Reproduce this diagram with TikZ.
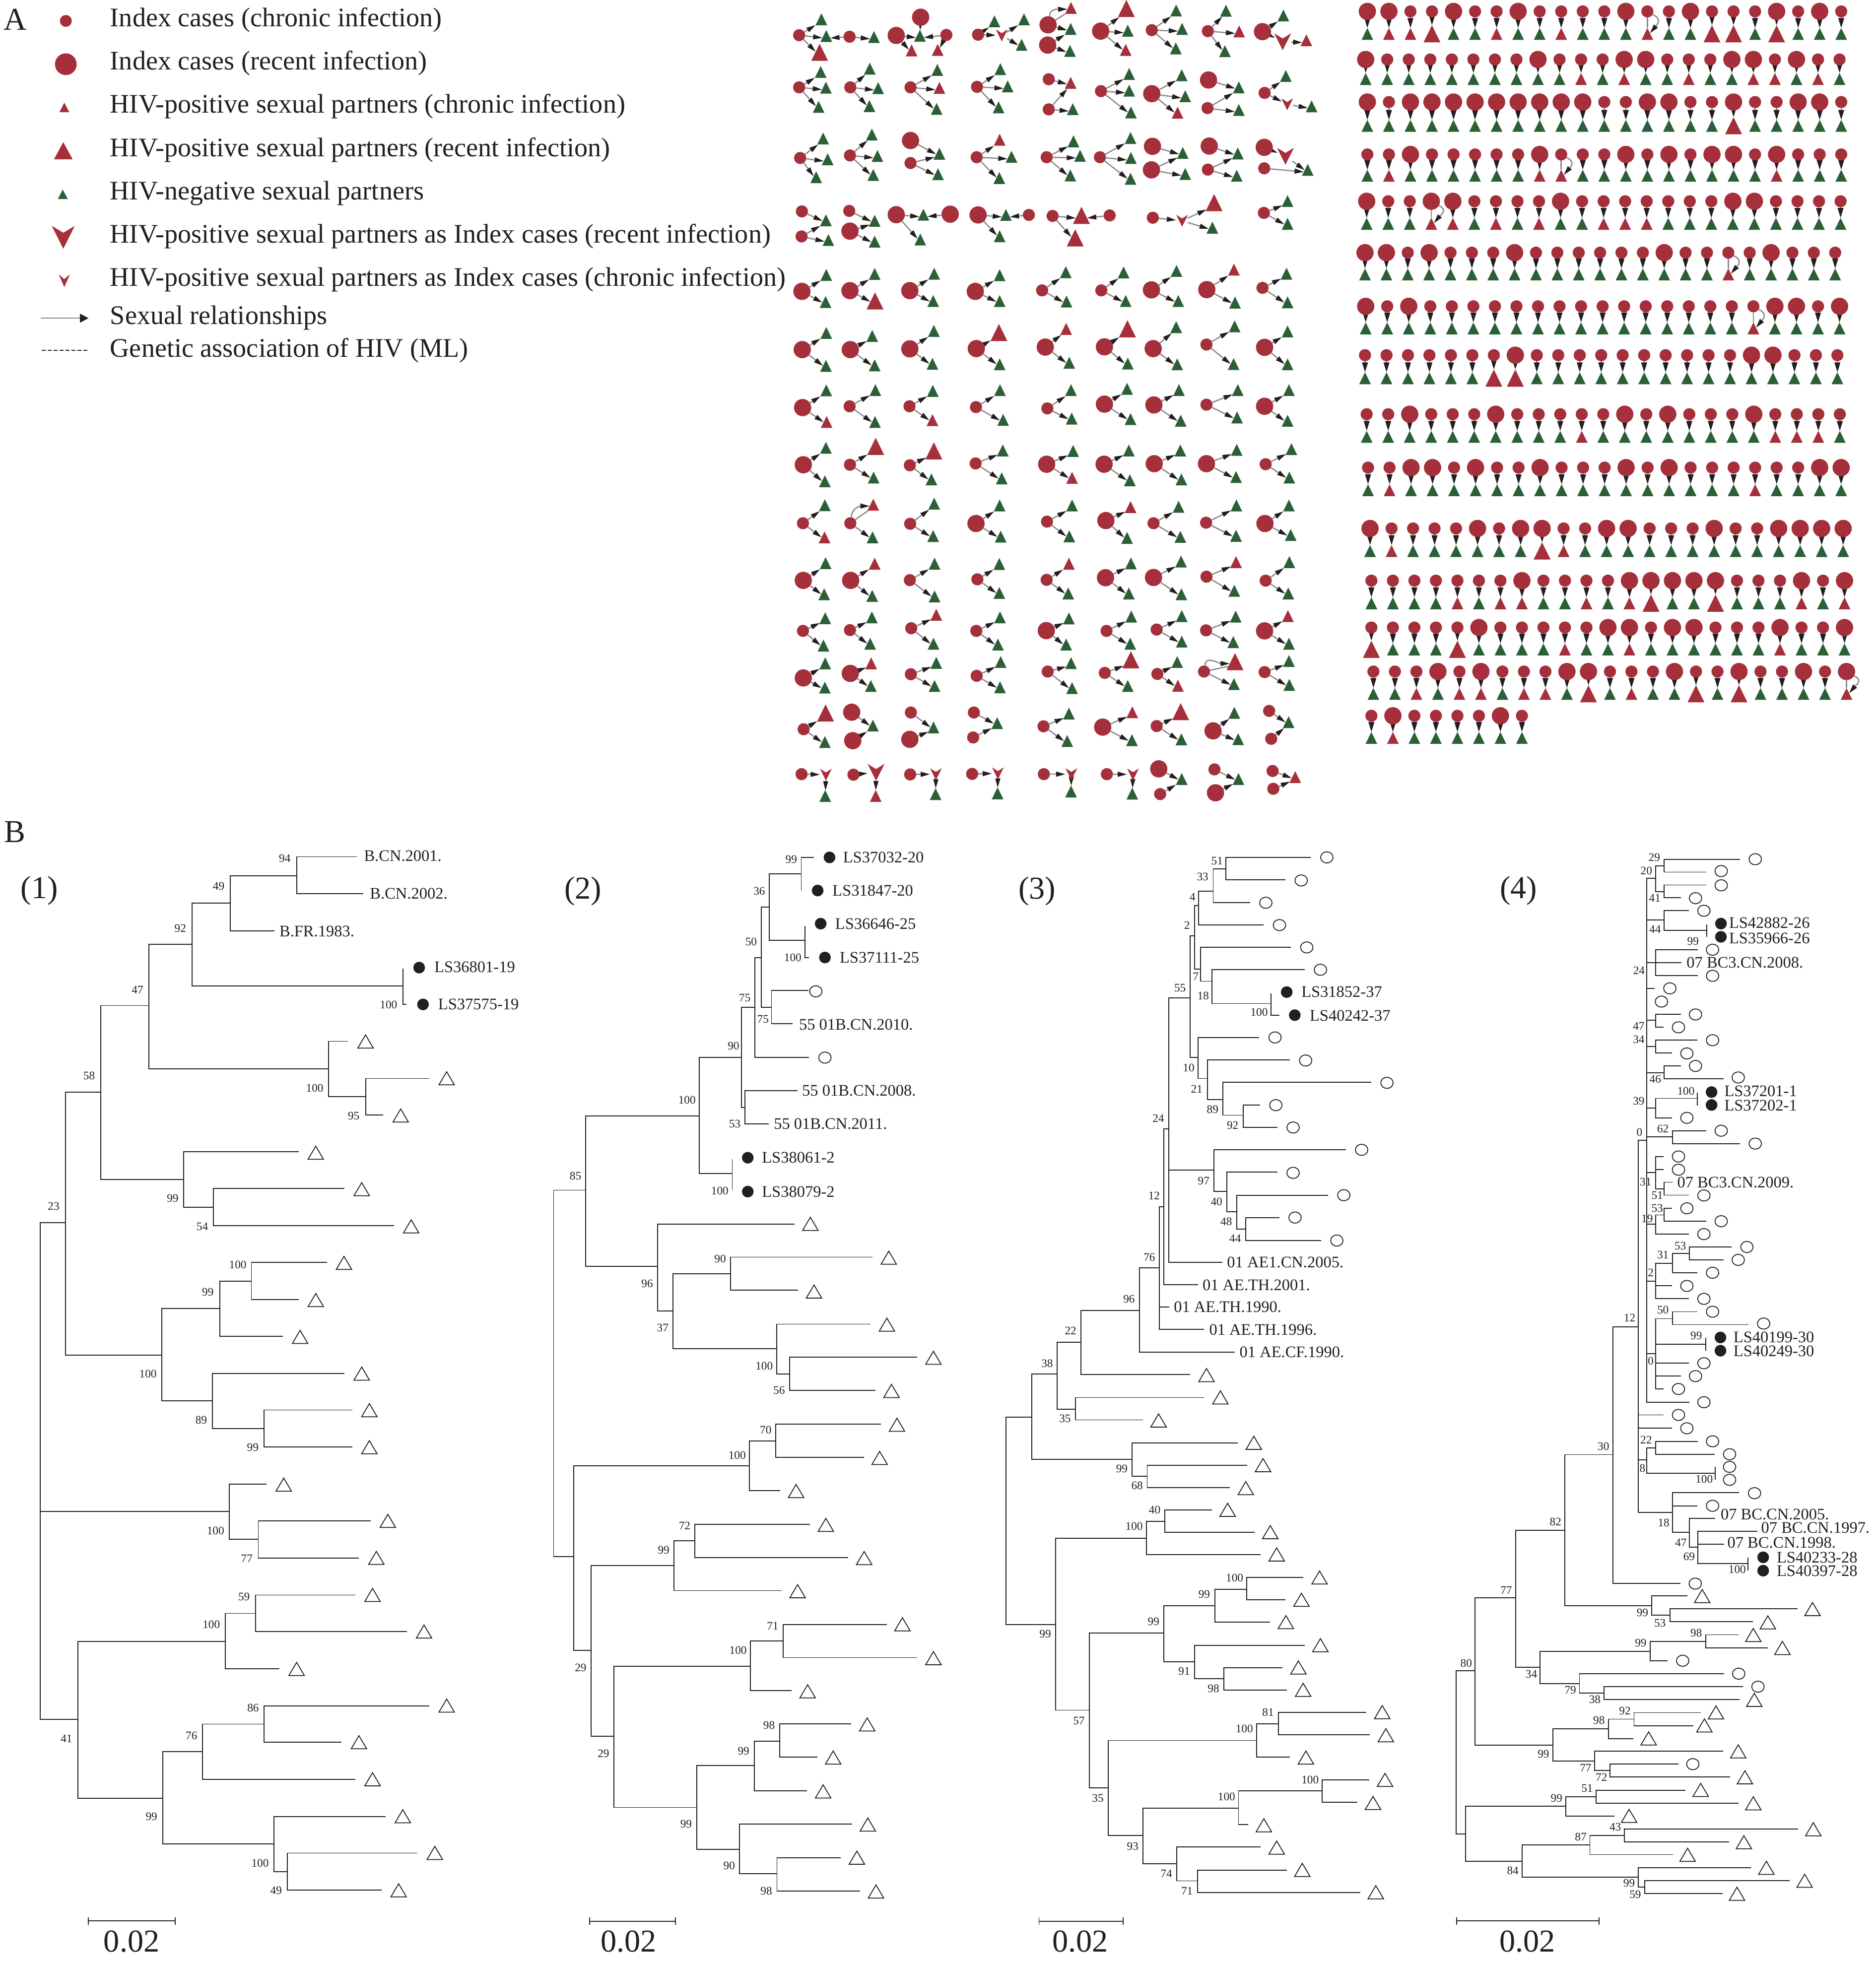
\documentclass[tikz,border=0pt]{standalone}
\usepackage{fontspec}
\setmainfont{Liberation Serif}
\usetikzlibrary{arrows.meta,shapes.geometric}
\definecolor{hvred}{HTML}{A52F3A}
\definecolor{hvgrn}{HTML}{2B6037}
\definecolor{ink}{HTML}{231F20}
\definecolor{lkg}{HTML}{8A8A8C}
\pgfdeclarelayer{lo}\pgfsetlayers{lo,main}
\tikzset{
 fr/.style n args={4}{shift={(#1*0.4pt,-#2*0.4pt)},x={#3*0.4pt/1568},y={-#4*0.4pt/1568}},
 tribase/.style={shape=isosceles triangle,isosceles triangle stretches,shape border rotate=90,inner sep=0pt,outer sep=0pt,draw=none},
 hvg/.style={tribase,fill=hvgrn,minimum width=9.4pt,minimum height=9.6pt,yshift=-1.7pt},
 hvr/.style={tribase,fill=hvred,minimum width=9.4pt,minimum height=9.6pt,yshift=-1.7pt},
 hvR/.style={tribase,fill=hvred,minimum width=13.6pt,minimum height=13.8pt,yshift=-2.4pt},
 hvc/.style={shape=circle,fill=hvred,minimum size=9.8pt,inner sep=0pt,outer sep=0pt},
 hvC/.style={shape=circle,fill=hvred,minimum size=13.9pt,inner sep=0pt,outer sep=0pt},
 hvv/.style={shape=circle,minimum size=9.6pt,inner sep=0pt,outer sep=0pt},
 hvV/.style={shape=circle,minimum size=13.6pt,inner sep=0pt,outer sep=0pt},
 lk/.style={draw=lkg,line width=1pt,-{Triangle[length=7.5pt,width=3.9pt,color=ink,fill=ink]}},
 ll/.style={draw=lkg,line width=1pt,-{Triangle[length=8pt,width=4.6pt,color=ink,fill=ink]}},
 lk0/.style={draw=lkg,line width=1pt},
 tr/.style={draw=ink,line width=0.75pt},
 scbar/.style={draw=ink,line width=0.75pt,{Bar[width=6pt]}-{Bar[width=6pt]}},
 optri/.style={tribase,draw=ink,line width=0.7pt,minimum width=12.5pt,minimum height=10.6pt,yshift=-1.6pt},
 opcir/.style={shape=ellipse,draw=ink,line width=0.7pt,minimum width=10pt,minimum height=9pt,inner sep=0pt},
 bdot/.style={shape=circle,fill=ink,minimum size=9.4pt,inner sep=0pt},
 bsv/.style={font=\fontsize{9.3}{10}\selectfont,text=ink,inner sep=0pt},
 tlab/.style={font=\fontsize{13}{14}\selectfont,text=ink,inner sep=0pt,anchor=west},
 bigl/.style={font=\fontsize{25.7}{27}\selectfont,text=ink,inner sep=0pt},
 leg/.style={font=\fontsize{21.65}{23}\selectfont,text=ink,inner sep=0pt,anchor=base west},
}
\newcounter{mm}\newcounter{nn}
\newtoks\arqtoks
\newcommand\Qd[1]{\edef\tmpq{#1}\global\arqtoks\expandafter{\the\expandafter\arqtoks\tmpq}}
\newcommand\mkg[3]{\node[hvg] (#1) at (#2,#3) {};}
\newcommand\mkr[3]{\node[hvr] (#1) at (#2,#3) {};}
\newcommand\mkR[3]{\node[hvR] (#1) at (#2,#3) {};}
\newcommand\mkc[3]{\node[hvc] (#1) at (#2,#3) {};}
\newcommand\mkC[3]{\node[hvC] (#1) at (#2,#3) {};}
\newcommand\mkv[3]{\node[hvv] (#1) at (#2,#3) {};\fill[hvred] (#1.center) ++(-4.7pt,4.8pt) -- ++(4.7pt,-3pt) -- ++(4.7pt,3pt) -- ++(-4.7pt,-9.6pt) -- cycle;}
\newcommand\mkV[3]{\node[hvV] (#1) at (#2,#3) {};\fill[hvred] (#1.center) ++(-6.8pt,6.8pt) -- ++(6.8pt,-4.2pt) -- ++(6.8pt,4.2pt) -- ++(-6.8pt,-13.6pt) -- cycle;}
\newcommand\Mk[4]{\csname mk#2\endcsname{#1}{#3}{#4}}
\newcommand\Ar[3][lk]{\Qd{\noexpand\draw[#1] (#2) -- (#3);}}
\newcommand\Mf[2]{\foreach \t/\a/\b [count=\k] in {#2}{\if\t @\Ar{#1}{\a}\else\Mk{#1-\k}{\t}{\a}{\b}\Ar{#1}{#1-\k}\fi}}
\newcommand\Mo[4]{\stepcounter{mm}\edef\sn{m\arabic{mm}}\Mk{\sn}{#1}{#2}{#3}\Mf{\sn}{#4}}
\newcommand\LpA[2]{\Qd{\noexpand\draw[lk0] (#1) -- (#2);\noexpand\draw[lk] (#1.80) to[out=90,in=180,looseness=1.1] (#2.165);}}
\newcommand\LpB[2]{\Qd{\noexpand\draw[lk0] (#1) -- (#2);\noexpand\draw[lk] (#1.-30) to[out=-25,in=50,looseness=1.5] (#2.50);}}
\newcommand\lolg[3]{\Mk{#1b}{g}{#2}{#3}\Ar[ll]{#1a}{#1b}}
\newcommand\lolr[3]{\Mk{#1b}{r}{#2}{#3}\Ar[ll]{#1a}{#1b}}
\newcommand\lolR[3]{\Mk{#1b}{R}{#2}{#3}\Ar[ll]{#1a}{#1b}}
\newcommand\lolL[3]{\Mk{#1b}{r}{#2}{#3}\LpB{#1a}{#1b}}
\def\cirB{C}\def\cirS{c}
\def\Lol#1#2\relax#3#4#5{\Mk{\sn a}{\csname cir#1\endcsname}{#3}{#4}\csname lol#2\endcsname{\sn}{#3}{#5}}
\newcommand\Rw[5]{\foreach \t [count=\i from 0] in {#5}{\pgfmathsetmacro\xx{#1+\i*#2}\stepcounter{mm}\edef\sn{l\arabic{mm}}\expandafter\Lol\t\relax{\xx}{#3}{#4}}}
\newcommand\C[5]{\draw[tr] (#3,#2)--(#1,#2)--(#1,#4)--(#5,#4);}
\newcommand\Hh[3]{\draw[tr] (#1,#3)--(#2,#3);}
\newcommand\Vv[3]{\draw[tr] (#1,#2)--(#1,#3);}
\newcommand\nm{\stepcounter{nn}\edef\nmx{n\arabic{nn}}}
\newcommand\Tm[1]{\foreach \a/\b in {#1}{\nm\node[optri] (\nmx) at (\a,\b) {};}}
\newcommand\Om[1]{\foreach \a/\b in {#1}{\nm\node[opcir] (\nmx) at (\a,\b) {};}}
\newcommand\Dm[1]{\foreach \a/\b in {#1}{\nm\node[bdot] (\nmx) at (\a,\b) {};}}
\newcommand\Bs[1]{\foreach \a/\b/\c in {#1}{\nm\node[bsv] (\nmx) at (\a,\b) {\c};}}
\newcommand\Lb[3]{\nm\node[tlab] (\nmx) at (#1,#2) {#3};}
\newcommand\Bg[3]{\nm\node[bigl] (\nmx) at (#1,#2) {#3};}
\newcommand\Sc[3]{\nm\coordinate (\nmx a) at (#1,#3);\coordinate (\nmx b) at (#2,#3);\draw[scbar] (\nmx a) -- (\nmx b);}
\begin{document}
\begin{tikzpicture}
\useasboundingbox (0pt,0pt) rectangle (1512pt,-1582.4pt);
% ---------- legend
\begin{scope}[fr={0}{0}{1600}{760}]
\Bg{30}{82}{A}
\node[hvc,minimum size=9.6pt] (lg1) at (130,87) {};
\node[hvC,minimum size=17.5pt] (lg2) at (130,267) {};
\node[hvr,minimum width=8pt,minimum height=7.6pt,yshift=0.3pt] (lg3) at (127,447) {};
\node[hvR,minimum width=15pt,minimum height=13.8pt] (lg4) at (125,627) {};
\node[hvg,minimum width=8pt,minimum height=7.6pt,yshift=0.3pt] (lg5) at (124,808) {};
\node[hvV,minimum size=18pt] (lg6) at (125,987) {};
\fill[hvred] (lg6.center) ++(-9.2pt,9.2pt) -- ++(9.2pt,-5.5pt) -- ++(9.2pt,5.5pt) -- ++(-9.2pt,-18.4pt) -- cycle;
\node[hvv,minimum size=10pt] (lg7) at (127,1167) {};
\fill[hvred] (lg7.center) ++(-4.5pt,5.2pt) -- ++(4.5pt,-4pt) -- ++(4.5pt,4pt) -- ++(-4.5pt,-10.4pt) -- cycle;
\node[leg] (lt1) at (217,110) {Index cases (chronic infection)};
\node[leg] (lt2) at (217,290) {Index cases (recent infection)};
\node[leg] (lt3) at (217,470) {HIV-positive sexual partners (chronic infection)};
\node[leg] (lt4) at (217,650) {HIV-positive sexual partners (recent infection)};
\node[leg] (lt5) at (217,830) {HIV-negative sexual partners};
\node[leg] (lt6) at (217,1010) {HIV-positive sexual partners as Index cases (recent infection)};
\node[leg] (lt7) at (217,1190) {HIV-positive sexual partners as Index cases (chronic infection)};
\node[leg] (lt8) at (217,1348) {Sexual relationships};
\node[leg] (lt9) at (217,1484) {Genetic association of HIV (ML)};
\coordinate (la1) at (80,1323);\coordinate (la2) at (175,1323);
\draw[draw=lkg,line width=1pt,-{Triangle[length=7pt,width=7pt,color=ink,fill=ink]}] (la1) -- (la2);
\coordinate (ld1) at (82,1457);\coordinate (ld2) at (172,1457);
\draw[draw=ink,line width=0.6pt,dash pattern=on 3.2pt off 1.6pt] (ld1) -- (ld2);
\end{scope}
% ---------- motifs top
\begin{scope}[fr={1580}{0}{1100}{800}]
\Mk{h1}{g}{121}{143}\Mo{c}{43}{139}{g/107/77,@/h1/0,R/102/208}\Mo{c}{188}{145}{@/h1/0,g/258/147}
\Mk{h2}{g}{390}{142}\Mo{C}{322}{140}{@/h2/0,r/366/200}\Mo{C}{392}{68}{@/h2/0}\Mo{c}{466}{138}{@/h2/0,r/441/198}
\Mk{v1}{v}{625}{140}\Mo{c}{557}{137}{g/604/85,@/v1/0}\Mf{v1}{g/689/77,g/682/178}
\Mk{h3}{g}{823}{115}\Mk{h4}{r}{824}{32}\Mk{h5}{C}{758}{98}\LpA{h5}{h4}\Mf{h5}{@/h3/0}\Mo{C}{757}{178}{@/h3/0,g/821/202}
\Mo{C}{909}{123}{R/983/35,g/987/122,r/981/198}
\Mo{c}{1056}{119}{g/1126/42,g/1143/115,g/1125/192}
\Mo{c}{1217}{123}{g/1269/43,r/1307/125,g/1266/203}
\Mk{v2}{V}{1432}{165}\Mo{C}{1374}{125}{g/1434/62,@/v2/0}\Mf{v2}{r/1500/160}
% row 2
\Mo{c}{43}{345}{g/105/285,g/120/347,g/99/423}
\Mo{c}{190}{345}{g/246/272,g/270/349,g/245/420}
\Mo{c}{363}{345}{g/440/277,r/446/348,g/438/431}
\Mo{c}{554}{343}{g/621/274,g/642/342,g/616/425}
\Mk{h6}{r}{823}{328}\Mo{c}{760}{313}{@/h6/0}\Mo{c}{760}{432}{@/h6/0,g/829/432}
\Mo{c}{910}{360}{g/991/293,g/991/359,g/996/445}
\Mo{C}{1056}{370}{g/1142/298,g/1152/381,r/1130/446}
\Mk{h7}{g}{1306}{346}\Mo{C}{1219}{316}{@/h7/0}\Mo{c}{1216}{427}{@/h7/0,g/1306/435}
\Mk{v3}{v}{1445}{412}\Mo{c}{1380}{367}{g/1441/301,@/v3/0}\Mf{v3}{g/1515/421}
% row 3
\Mo{c}{46}{624}{g/112/548,g/125/630,g/92/701}
\Mo{c}{189}{614}{g/252/532,g/268/617,g/256/692}
\Mk{h8}{g}{446}{608}\Mo{C}{363}{555}{@/h8/0}\Mo{c}{363}{644}{@/h8/0,g/442/689}
\Mo{c}{553}{621}{r/619/553,g/653/620,g/618/704}
\Mo{c}{754}{621}{g/831/559,g/850/616,g/822/694}
\Mo{c}{907}{621}{g/995/546,g/996/625,g/995/707}
\Mk{h9}{g}{1145}{605}\Mo{C}{1058}{578}{@/h9/0}\Mo{C}{1055}{671}{@/h9/0,g/1152/688}
\Mk{h10}{g}{1303}{607}\Mo{C}{1221}{577}{@/h10/0}\Mo{c}{1217}{670}{@/h10/0,g/1300/695}
\Mk{v4}{V}{1440}{617}\Mk{h11}{g}{1504}{672}\Mo{C}{1379}{582}{@/v4/0}\Mf{v4}{@/h11/0}\Mo{c}{1379}{665}{@/h11/0}
% row 4
\Mk{h12}{g}{120}{871}\Mo{c}{51}{835}{@/h12/0}\Mo{c}{50}{934}{@/h12/0,g/127/949}
\Mk{h13}{g}{260}{873}\Mo{c}{187}{833}{@/h13/0}\Mo{C}{189}{913}{@/h13/0,g/260/955}
\Mk{h14}{g}{400}{849}\Mo{C}{322}{848}{@/h14/0,g/391/947}\Mo{C}{477}{846}{@/h14/0}
\Mk{h15}{g}{637}{850}\Mo{C}{557}{849}{@/h15/0,g/619/934}\Mo{c}{703}{849}{@/h15/0}
\Mk{h16}{R}{854}{852}\Mo{c}{771}{853}{@/h16/0,R/836/941}\Mo{c}{935}{851}{@/h16/0}
\Mk{v5}{v}{1143}{872}\Mo{c}{1059}{860}{@/v5/0}\Mf{v5}{R/1235/802,g/1230/900}
\Mo{c}{1378}{841}{g/1446/795,g/1446/885}
% row 5
\Mo{C}{51}{1151}{g/121/1087,g/119/1194}
\Mo{C}{189}{1148}{g/260/1083,R/261/1190}
\Mo{C}{361}{1148}{g/431/1082,g/428/1190}
\Mo{C}{549}{1151}{g/619/1088,g/619/1190}
\Mo{c}{741}{1147}{g/809/1076,g/811/1192}
\Mo{c}{911}{1147}{g/975/1077,g/981/1190}
\Mo{C}{1055}{1145}{g/1127/1071,g/1132/1190}
\Mo{C}{1214}{1144}{r/1292/1066,g/1295/1196}
\Mo{c}{1374}{1137}{g/1443/1082,g/1446/1195}
% row 6
\Mo{C}{52}{1381}{g/121/1316,g/120/1446}
\Mo{C}{190}{1381}{g/253/1328,g/260/1444}
\Mo{C}{361}{1378}{g/430/1308,g/426/1438}
\Mo{C}{552}{1377}{R/617/1315,g/619/1440}
\Mo{C}{750}{1371}{r/810/1300,g/819/1434}
\Mo{C}{920}{1370}{R/986/1300,g/987/1437}
\Mo{C}{1060}{1377}{g/1126/1293,g/1129/1440}
\Mo{c}{1213}{1361}{g/1294/1290,g/1291/1439}
\Mo{C}{1380}{1372}{g/1446/1310,g/1446/1440}
\end{scope}
% ---------- motifs bottom
\begin{scope}[fr={1580}{800}{1100}{840}]
\Mo{C}{53}{40}{g/121/-24,r/122/95}
\Mo{c}{188}{35}{g/262/-25,g/261/95}
\Mo{c}{360}{35}{g/427/-22,r/426/88}
\Mo{c}{551}{38}{g/620/-25,g/629/87}
\Mo{c}{756}{43}{g/824/-25,g/826/82}
\Mo{C}{920}{27}{g/985/-30,g/995/84}
\Mo{C}{1062}{30}{g/1134/-25,g/1139/90}
\Mo{c}{1213}{29}{g/1303/-25,g/1301/78}
\Mo{C}{1380}{35}{g/1450/-25,g/1446/90}
% row 8
\Mo{C}{55}{255}{g/120/192,g/117/318}
\Mo{c}{189}{255}{R/263/187,g/257/304}
\Mo{c}{361}{257}{R/430/204,g/423/311}
\Mo{c}{550}{250}{g/628/202,g/625/307}
\Mo{C}{754}{253}{g/830/204,r/827/305}
\Mo{C}{919}{253}{g/990/202,g/993/314}
\Mo{C}{1063}{251}{g/1138/202,g/1141/311}
\Mo{C}{1213}{251}{g/1300/200,g/1298/302}
\Mo{c}{1383}{253}{g/1457/197,g/1451/304}
% row 9
\Mo{c}{54}{475}{g/117/408,r/116/529}
\Mk{h20}{c}{190}{475}\Mk{h21}{r}{256}{406}\LpA{h20}{h21}\Mf{h20}{g/254/529}
\Mo{c}{362}{477}{g/431/402,g/428/524}
\Mo{C}{551}{476}{g/619/409,g/622/526}
\Mo{c}{755}{469}{g/827/409,g/819/525}
\Mo{C}{924}{465}{r/995/415,g/985/531}
\Mo{c}{1061}{475}{g/1133/414,g/1138/527}
\Mo{c}{1212}{473}{g/1299/409,g/1298/523}
\Mo{C}{1381}{476}{g/1450/409,g/1455/520}
% row 10
\Mo{C}{55}{690}{g/119/626,g/115/743}
\Mo{C}{191}{690}{r/260/628,g/253/749}
\Mo{c}{361}{689}{g/432/628,g/432/751}
\Mo{c}{555}{686}{g/618/629,g/618/738}
\Mo{c}{754}{688}{r/818/628,g/816/740}
\Mo{C}{923}{680}{g/996/627,g/990/740}
\Mo{C}{1061}{679}{g/1140/620,g/1141/743}
\Mo{c}{1213}{676}{r/1298/622,g/1293/730}
\Mo{c}{1383}{691}{g/1451/622,g/1448/740}
% row 11
\Mo{c}{54}{880}{g/118/833,g/113/936}
\Mo{c}{189}{877}{g/252/830,g/247/929}
\Mo{c}{365}{870}{r/437/820,g/429/929}
\Mo{c}{552}{880}{g/620/830,g/614/932}
\Mo{C}{753}{879}{g/818/834,g/810/932}
\Mo{c}{926}{880}{g/997/827,g/994/929}
\Mo{c}{1070}{875}{g/1142/825,g/1142/921}
\Mo{c}{1212}{878}{g/1297/827,g/1290/923}
\Mo{C}{1380}{880}{r/1447/825,g/1450/929}
% row 12
\Mo{C}{55}{1057}{g/118/1003,g/117/1094}
\Mo{C}{190}{1040}{r/250/1003,g/249/1088}
\Mo{c}{364}{1043}{g/437/1001,g/432/1088}
\Mo{c}{553}{1049}{g/622/998,g/620/1093}
\Mo{c}{757}{1033}{g/824/1002,g/827/1096}
\Mo{c}{921}{1038}{R/996/990,g/987/1088}
\Mo{c}{1072}{1042}{g/1129/998,r/1131/1087}
\Mk{h22}{c}{1206}{1033}\Mk{h23}{R}{1295}{997}\LpA{h22}{h23}\Mf{h22}{g/1292/1081}
\Mo{c}{1380}{1035}{g/1450/994,g/1451/1084}
% row 13
\Mo{c}{56}{1250}{R/119/1190,g/117/1299}
\Mk{h24}{g}{255}{1237}\Mo{C}{194}{1186}{@/h24/0}\Mo{C}{197}{1293}{@/h24/0}
\Mk{h25}{g}{429}{1244}\Mo{c}{364}{1187}{@/h25/0}\Mo{C}{361}{1288}{@/h25/0}
\Mk{h26}{g}{612}{1228}\Mo{c}{545}{1187}{@/h26/0}\Mo{c}{543}{1281}{@/h26/0}
\Mo{c}{745}{1239}{g/818/1192,g/813/1295}
\Mo{C}{915}{1242}{r/1000/1187,g/999/1292}
\Mo{c}{1070}{1238}{R/1139/1185,g/1141/1289}
\Mo{C}{1232}{1256}{g/1293/1189,g/1304/1288}
\Mk{h27}{g}{1449}{1224}\Mo{c}{1393}{1181}{@/h27/0}\Mo{c}{1399}{1286}{@/h27/0}
% row 14
\Mk{v6}{v}{120}{1421}\Mo{c}{50}{1419}{@/v6/0}\Mf{v6}{g/118/1502}
\Mk{v7}{V}{264}{1412}\Mo{c}{199}{1421}{@/v7/0}\Mf{v7}{r/263/1502}
\Mk{v8}{v}{436}{1419}\Mo{c}{362}{1420}{@/v8/0}\Mf{v8}{g/435/1495}
\Mk{v9}{v}{614}{1416}\Mo{c}{540}{1418}{@/v9/0}\Mf{v9}{g/613/1492}
\Mk{v10}{v}{825}{1419}\Mo{c}{746}{1419}{@/v10/0}\Mf{v10}{g/824/1485}
\Mk{v11}{v}{1002}{1420}\Mo{c}{927}{1419}{@/v11/0}\Mf{v11}{g/1000/1493}
\Mk{h28}{g}{1142}{1438}\Mo{C}{1076}{1399}{@/h28/0}\Mo{c}{1080}{1494}{@/h28/0}
\Mk{h29}{g}{1305}{1438}\Mo{c}{1236}{1401}{@/h29/0}\Mo{C}{1239}{1489}{@/h29/0}
\Mk{h30}{r}{1468}{1431}\Mo{c}{1403}{1407}{@/h30/0}\Mo{c}{1405}{1474}{@/h30/0}
\end{scope}
% ---------- lollipops
\begin{scope}[fr={2720}{0}{1060}{800}]
\Rw{52}{64.2}{45}{135}{Bg,Br,Sr,SR,Bg,Sg,Sr,Bg,Sg,Sr,Sg,Sg,Bg,SL,Sg,Bg,SR,SR,Sg,BR,Sg,Bg,Sg}
\Rw{47}{64.2}{235}{313}{Bg,Sg,Sg,Sg,Sg,Sg,Sg,Sg,Bg,Sg,Sr,Sg,Br,Bg,Sg,Sr,Sg,Bg,Br,Sr,Bg,Sr,Sg}
\Rw{52}{64.2}{403}{498}{Bg,Sg,Bg,Bg,Bg,Bg,Bg,Bg,Bg,Bg,Bg,Sg,Sg,Bg,Bg,Sg,Sg,BR,Sg,Sg,Bg,Bg,Sg}
\Rw{52}{64.2}{610}{695}{Sg,Sr,Bg,Sg,Sg,Sg,Sg,Sg,Br,SL,Sg,Sg,Bg,Sg,Bg,Sg,Bg,Bg,Sg,Br,Sg,Sg,Sg}
\Rw{50}{64.2}{795}{885}{Bg,Sg,Sg,BL,Br,Sg,Sr,Sg,Sr,Bg,Sg,Sr,Sr,Sr,Sg,Sg,Sg,Bg,Bg,Sg,Sg,Sg,Sg}
\Rw{45}{63.7}{998}{1085}{Bg,Bg,Sg,Bg,Sg,Sg,Sg,Bg,Sg,Sg,Sg,Sg,Sg,Sg,Bg,Sg,Sg,SL,Sg,Bg,Sg,Sg,Sg}
\Rw{47}{64.2}{1210}{1298}{Bg,Sg,Bg,Sg,Sg,Sg,Sg,Sg,Sg,Sg,Sg,Sg,Sg,Sg,Sg,Sg,Sg,Sg,SL,Bg,Bg,Sg,Bg}
\Rw{45}{64}{1403}{1495}{Sg,Sg,Sg,Sg,Sg,Sg,SR,BR,Sg,Sg,Sg,Sg,Sg,Sg,Sg,Sg,Sg,Sg,Bg,Bg,Sg,Sg,Sg}
\end{scope}
\begin{scope}[fr={2720}{780}{1060}{760}]
\Rw{50}{64.1}{113}{208}{Sg,Sg,Bg,Sg,Sg,Sg,Bg,Sg,Sg,Sg,Sr,Sg,Bg,Sg,Bg,Sg,Sg,Sg,Bg,Sr,Sr,Sr,Sg}
\Rw{54}{64.1}{335}{430}{Sg,Sr,Bg,Bg,Sg,Bg,Sg,Sg,Bg,Sg,Sg,Sg,Bg,Sg,Bg,Sg,Sg,Sg,Sr,Sg,Sg,Bg,Bg}
\Rw{60}{64.1}{588}{683}{Bg,Sr,Sg,Sg,Sg,Bg,Sg,Bg,BR,Sr,Sg,Bg,Bg,Sg,Sg,Sg,Bg,Sg,Sg,Bg,Bg,Bg,Bg}
\Rw{64}{64.1}{805}{900}{Sg,Sg,Sg,Sg,Sr,Sg,Sr,Br,Sg,Sg,Sr,Sg,Br,BR,Bg,Bg,BR,Sg,Sg,Sg,Br,Sg,Br}
\Rw{64}{64.1}{1000}{1092}{SR,Sg,Sg,Sg,SR,Bg,Sg,Sg,Sg,Sr,Sg,Bg,Br,Sg,Bg,Bg,Sg,Sg,Sg,Br,Sg,Sg,Bg}
\Rw{70}{64.1}{1183}{1277}{Sg,Sg,Sr,Bg,Sr,Br,Sg,Sr,Sr,Bg,BR,Sg,Sr,Sg,Bg,SR,Sg,BR,Sg,Sg,Bg,Sg,BL}
\Rw{64}{64.1}{1367}{1460}{Sg,Br,Sg,Sg,Sg,Sg,Bg,Sg}
\end{scope}
% ---------- tree 1
\begin{scope}[fr={0}{1650}{1100}{1200}]
\Bg{42}{35}{B}\Bg{113}{190}{(1)}
\C{188}{720}{289}{1412}{465}\C{289}{492}{428}{950}{528}\C{428}{331}{552}{659}{944}
\C{552}{222}{662}{440}{1157}\C{662}{150}{852}{295}{788}\C{852}{100}{1025}{197}{1043}
\C{1157}{395}{1157}{489}{1167}\C{944}{586}{1000}{732}{1050}\C{1050}{684}{1233}{780}{1100}
\C{528}{877}{858}{1023}{613}\C{613}{974}{990}{1072}{1132}\C{465}{1290}{631}{1533}{610}
\C{631}{1218}{722}{1363}{813}\C{722}{1168}{940}{1266}{858}
\Tm{1050/587,1283/684,1151/782,907/880,1039/976,1181/1074,988/1170,907/1268,862/1365}
\Dm{1204/392,1215/489}
\Lb{1045}{98}{B.CN.2001.}\Lb{1062}{197}{B.CN.2002.}\Lb{802}{296}{B.FR.1983.}
\Lb{1247}{390}{LS36801-19}\Lb{1258}{488}{LS37575-19}
\Bs{818/105/94,628/178/49,518/289/92,395/451/47,1116/490/100,904/709/100,1016/782/95,256/677/58,496/1000/99,581/1074/54,154/1021/23,683/1174/100,597/1247/99,425/1462/100}
\end{scope}
\begin{scope}[fr={0}{2750}{1100}{1206}]
\C{115}{-372}{188}{930}{224}\Hh{115}{658}{385}
\C{610}{23}{990}{168}{759}\C{759}{119}{1012}{216}{1012}
\C{658}{313}{765}{458}{742}\C{742}{410}{1065}{507}{1031}
\C{224}{725}{647}{1136}{467}\C{647}{652}{734}{797}{803}\C{734}{604}{1021}{700}{1169}
\C{467}{1014}{582}{1256}{787}\C{582}{942}{759}{1087}{1021}\C{759}{894}{1233}{990}{981}
\C{787}{1184}{1108}{1329}{826}\C{826}{1280}{1199}{1377}{1096}
\Tm{1039/24,1061/120,1061/217,815/315,1114/410,1081/507,1070/604,1218/700,852/798,1283/894,1031/990,1070/1087,1157/1184,1249/1280,1145/1378}
\Bs{578/145/89,726/217/99,619/435/100,709/508/77,191/980/41,607/681/100,701/609/59,435/1185/99,550/973/76,727/900/86,747/1306/100,793/1378/49}
\Sc{253}{505}{1458}\Bg{378}{1512}{0.02}
\end{scope}
% ---------- tree 2
\begin{scope}[fr={1080}{1680}{960}{2276}]
\Bg{155}{80}{(2)}
\C{58}{495}{163}{1004}{124}\C{163}{392}{538}{601}{400}\C{538}{311}{676}{472}{646}\Vv{646}{452}{495}
\C{676}{241}{721}{380}{688}\C{688}{357}{860}{403}{766}\C{721}{172}{742}{311}{898}
\C{742}{102}{768}{241}{775}\C{775}{218}{897}{264}{845}\C{768}{56}{873}{148}{886}
\Vv{873}{33}{79}\Hh{873}{914}{33}\C{886}{128}{886}{172}{898}
\C{400}{542}{851}{663}{451}\C{451}{611}{640}{715}{792}\C{640}{588}{1108}{634}{862}
\C{792}{681}{1101}{750}{834}\C{834}{727}{1255}{773}{1117}
\C{124}{878}{703}{1134}{182}\C{703}{843}{789}{912}{803}\C{789}{820}{1136}{866}{1080}
\C{182}{1016}{454}{1253}{256}\C{454}{982}{523}{1051}{808}\C{523}{959}{902}{1005}{1028}
\C{256}{1156}{705}{1352}{529}\C{705}{1121}{814}{1190}{842}\C{814}{1098}{1154}{1144}{1255}
\C{529}{1294}{718}{1410}{670}\C{718}{1260}{802}{1329}{892}\C{802}{1236}{1037}{1282}{926}
\C{670}{1375}{1040}{1444}{793}\C{793}{1422}{1003}{1468}{1066}
\Dm{966/33,927/79,937/125,951/172,697/450,697/497}
\Om{921/219,951/311}
\Tm{903/542,1161/589,915/636,1155/682,1308/728,1170/774,1188/821,1131/867,856/913,954/960,1080/1006,861/1052,1206/1098,1308/1145,894/1191,1090/1237,978/1283,945/1330,1092/1376,1056/1422,1119/1469}
\Lb{1010}{33}{LS37032-20}\Lb{975}{79}{LS31847-20}\Lb{984}{125}{LS36646-25}\Lb{999}{172}{LS37111-25}
\Lb{865}{265}{55 01B.CN.2010.}\Lb{875}{357}{55 01B.CN.2008.}\Lb{782}{403}{55 01B.CN.2011.}
\Lb{743}{450}{LS38061-2}\Lb{743}{497}{LS38079-2}
\Bs{840/36/99,735/80/36,845/172/100,708/150/50,687/228/75,747/258/75,650/295/90,654/403/53,497/370/100,605/496/100,130/475/85,366/625/96,417/686/37,606/590/90,751/739/100,800/773/56,756/828/70,662/863/100,147/1158/29,420/995/99,489/961/72,222/1277/29,779/1100/71,665/1134/100,767/1238/98,683/1274/99,494/1375/99,636/1433/90,758/1468/98}
\Sc{175}{460}{1510}\Bg{305}{1538}{0.02}
\end{scope}
% ---------- tree 3
\begin{scope}[fr={2000}{1680}{880}{2276}]
\Bg{160}{80}{(3)}
\C{48}{810}{141}{1098}{226}\C{141}{750}{232}{869}{500}\C{232}{706}{317}{799}{298}\C{317}{662}{527}{751}{710}
\C{298}{783}{760}{814}{540}\C{500}{846}{881}{892}{555}\C{555}{877}{915}{908}{851}
\C{527}{603}{598}{720}{870}\C{598}{518}{615}{688}{760}\Hh{598}{634}{657}\C{615}{410}{632}{626}{737}
\C{632}{228}{709}{595}{825}\Hh{632}{795}{467}\C{795}{439}{1268}{497}{841}\C{841}{470}{1022}{525}{876}
\C{876}{502}{1205}{549}{909}\C{909}{533}{1030}{565}{1180}\C{709}{142}{726}{311}{738}\C{726}{100}{739}{188}{746}
\C{739}{80}{792}{127}{973}\C{792}{49}{837}{96}{924}\C{837}{33}{1143}{64}{1051}\C{746}{158}{1071}{205}{788}
\C{788}{189}{1120}{236}{1000}\C{1000}{222}{1000}{252}{1030}\C{738}{283}{957}{340}{772}\C{772}{314}{1067}{369}{827}
\C{827}{345}{1359}{391}{900}\C{900}{377}{960}{408}{1022}
\C{226}{978}{553}{1217}{347}\C{553}{955}{619}{1001}{963}\C{619}{939}{788}{970}{941}\C{347}{1110}{615}{1325}{415}
\C{615}{1072}{798}{1150}{726}\C{798}{1049}{913}{1095}{996}\C{913}{1033}{1116}{1064}{1052}\C{726}{1127}{1120}{1173}{831}
\C{831}{1158}{1041}{1189}{1057}\C{415}{1259}{948}{1391}{540}\C{948}{1236}{1027}{1282}{1068}\C{1027}{1220}{1342}{1251}{1355}
\C{540}{1353}{883}{1430}{661}\C{883}{1329}{1183}{1376}{918}\C{1183}{1314}{1352}{1345}{1310}\C{661}{1407}{963}{1454}{736}\C{736}{1439}{1056}{1470}{1320}
\Om{1200/33,1108/65,981/96,1030/127,1128/158,1177/189,1014/283,1124/315,1416/346,1017/377,1079/408,1325/439,1079/471,1261/502,1086/533,1236/565}
\Dm{1056/220,1085/252}
\Tm{768/752,818/783,596/815,938/846,971/877,909/909,844/939,997/970,1020/1001,1174/1033,1109/1064,1053/1095,1177/1127,1098/1158,1115/1189,1399/1220,1412/1252,1125/1283,1409/1314,1366/1346,974/1377,1020/1408,1112/1439,1376/1470}
\Lb{1108}{220}{LS31852-37}\Lb{1138}{253}{LS40242-37}
\Lb{841}{595}{01 AE1.CN.2005.}\Lb{753}{627}{01 AE.TH.2001.}\Lb{650}{657}{01 AE.TH.1990.}\Lb{777}{689}{01 AE.TH.1996.}\Lb{886}{720}{01 AE.CF.1990.}
\Bs{806/38/51,754/60/33,718/88/4,698/127/2,729/198/7,756/225/18,673/214/55,957/248/100,704/325/10,733/355/21,790/383/89,862/405/92,595/395/24,758/482/97,804/511/40,839/539/48,871/562/44,580/503/12,563/588/76,490/646/96,280/690/22,196/736/38,260/812/35,464/882/99,519/905/68,582/939/40,508/962/100,189/1111/99,869/1033/100,760/1056/99,578/1094/99,688/1163/91,793/1187/98,989/1220/81,904/1243/100,310/1232/57,378/1339/35,1140/1314/100,840/1337/100,503/1406/93,624/1444/74,698/1468/71}
\Sc{165}{470}{1510}\Bg{315}{1538}{0.02}
\end{scope}
% ---------- tree 4, left part
\begin{scope}[fr={2880}{2600}{522.67}{1356}]
\C{163}{887}{277}{1267}{220}\C{277}{717}{520}{1060}{747}\C{220}{1203}{825}{1331}{562}
\Bs{223/870/80,465/700/77}
\Sc{163}{1030}{1470}\Bg{592}{1518}{0.02}
\end{scope}
% ---------- tree 4, upper
\begin{scope}[fr={3000}{1700}{780}{1100}]
\Bg{120}{135}{(4)}
\C{605}{853}{640}{1921}{743}\C{640}{100}{675}{1605}{812}
\C{675}{64}{709}{138}{709}\C{709}{45}{1018}{82}{880}\C{709}{119}{880}{156}{777}
\Hh{640}{709}{220}\C{709}{193}{811}{249}{882}\Vv{882}{232}{268}
\Hh{640}{675}{342}\C{675}{305}{846}{379}{846}\Hh{675}{780}{342}
\Hh{640}{672}{416}
\Hh{640}{675}{508}\C{675}{491}{777}{527}{708}
\Hh{640}{675}{583}\C{675}{565}{845}{602}{742}
\Hh{640}{709}{658}\C{709}{639}{777}{676}{950}
\Hh{640}{675}{760}\C{675}{732}{845}{788}{742}\Vv{845}{716}{752}
\Hh{640}{743}{843}\C{743}{825}{880}{862}{1018}
\Hh{640}{675}{945}\C{675}{899}{708}{992}{709}\Hh{675}{708}{936}\C{709}{973}{745}{1010}{811}
\Hh{640}{675}{1094}\C{675}{1067}{709}{1122}{811}\C{709}{1048}{742}{1085}{880}
\Hh{640}{675}{1257}\C{675}{1206}{743}{1307}{811}\Hh{675}{742}{1270}\C{743}{1178}{813}{1233}{845}\C{813}{1159}{984}{1196}{950}
\Hh{640}{675}{1465}\C{675}{1365}{743}{1567}{708}\C{743}{1345}{845}{1382}{1052}\Hh{675}{878}{1438}\Vv{878}{1420}{1457}\Hh{675}{811}{1493}\Hh{675}{777}{1530}
\Om{1079/45,941/79,941/120,837/157,871/193,906/305,906/380,733/416,699/454,837/491,768/528,906/565,802/603,837/639,1010/672,802/788,941/825,1079/862,768/899,768/937,871/1011,802/1048,941/1085,871/1122,1045/1159,1010/1196,906/1233,802/1271,871/1308,906/1345,1113/1379,871/1493,837/1530,768/1567,871/1605}
\Dm{940/230,940/268,902/714,902/751,938/1419,938/1457}
\Lb{972}{228}{LS42882-26}\Lb{972}{272}{LS35966-26}\Lb{800}{342}{07 BC3.CN.2008.}
\Lb{953}{711}{LS37201-1}\Lb{953}{752}{LS37202-1}\Lb{762}{973}{07 BC3.CN.2009.}
\Lb{990}{1418}{LS40199-30}\Lb{990}{1458}{LS40249-30}
\Bs{670/40/29,638/78/20,672/157/41,673/247/44,827/281/99,608/365/24,607/525/47,607/563/34,674/677/46,798/711/100,607/740/39,610/830/0,705/820/62,635/972/31,682/1010/51,682/1048/53,641/1077/19,775/1156/53,705/1182/31,656/1233/2,705/1340/50,570/1362/12,840/1414/99,656/1486/0}
\end{scope}
% ---------- tree 4, lower
\begin{scope}[fr={3000}{2750}{780}{1206}]
\C{108}{434}{308}{793}{207}\C{308}{236}{502}{632}{660}\C{502}{-99}{605}{573}{776}
\C{660}{606}{805}{657}{733}\C{733}{640}{1250}{674}{1070}\C{207}{751}{653}{836}{367}
\C{653}{726}{878}{776}{724}\C{878}{708}{1012}{742}{1130}\C{367}{810}{953}{861}{466}\C{466}{844}{1029}{878}{1015}
\C{259}{954}{484}{1039}{429}\C{484}{929}{588}{980}{586}\C{588}{912}{859}{946}{828}\C{429}{1013}{949}{1064}{490}\C{490}{1047}{767}{1081}{977}
\C{312}{1132}{435}{1183}{508}\C{435}{1115}{797}{1149}{1012}
\C{135}{1259}{409}{1343}{605}\C{409}{1234}{549}{1284}{745}\C{549}{1217}{1253}{1251}{973}\C{605}{1318}{1062}{1369}{632}\C{632}{1352}{1218}{1386}{946}
\Hh{605}{708}{132}\Hh{605}{742}{166}\Hh{605}{640}{250}\C{640}{218}{675}{285}{917}\C{675}{201}{846}{235}{915}\Vv{917}{268}{302}
\C{743}{336}{1013}{440}{813}\Hh{743}{845}{370}\C{813}{403}{917}{479}{847}\C{847}{437}{1087}{521}{1050}\Hh{847}{952}{471}\Vv{1050}{506}{540}
\Om{768/132,802/167,906/201,975/235,975/268,975/302,1076/337,906/370,836/574,785/776,1012/810,1090/844,826/1047}
\Dm{1111/505,1111/540}
\Tm{864/607,1311/641,1130/676,1071/709,1189/743,1075/879,920/912,873/946,647/980,1010/1014,1037/1082,858/1115,1071/1150,568/1183,1314/1218,1033/1252,805/1285,1124/1319,1279/1353,1005/1387}
\Lb{938}{393}{07 BC.CN.2005.}\Lb{1102}{428}{07 BC.CN.1997.}\Lb{965}{467}{07 BC.CN.1998.}\Lb{1165}{505}{LS40233-28}\Lb{1165}{541}{LS40397-28}
\Bs{637/197/22,622/272/8,872/300/100,708/415/18,778/466/47,811/503/69,1006/537/100,464/214/30,270/412/82,622/650/99,693/677/53,172/811/34,615/729/99,840/703/98,330/853/79,429/878/38,551/907/92,446/932/98,221/1021/99,392/1057/77,456/1082/72,398/1110/51,274/1136/99,512/1212/43,372/1238/87,97/1326/84,568/1358/99,593/1388/59}
\end{scope}
\begin{pgfonlayer}{lo}
\fill[white] (0pt,0pt) rectangle (1512pt,-1582.4pt);
\the\arqtoks
\end{pgfonlayer}
\end{tikzpicture}
\end{document}
